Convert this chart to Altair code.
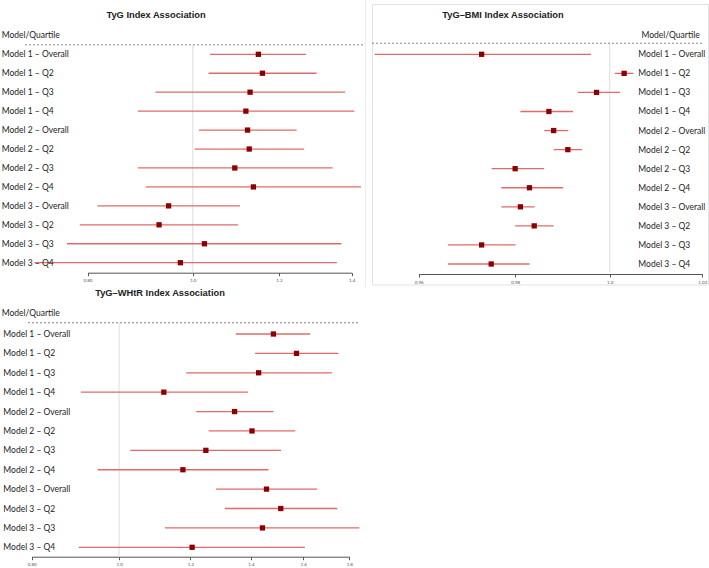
import json
import altair as alt
import pandas as pd

rows = ["Model 1 – Overall", "Model 1 – Q2", "Model 1 – Q3", "Model 1 – Q4",
        "Model 2 – Overall", "Model 2 – Q2", "Model 2 – Q3", "Model 2 – Q4",
        "Model 3 – Overall", "Model 3 – Q2", "Model 3 – Q3", "Model 3 – Q4"]

tyg_est = [1.149, 1.159, 1.129, 1.119, 1.123, 1.127, 1.093, 1.137, 0.950, 0.931, 1.025, 0.974]
tyg_lo = [1.037, 1.034, 0.924, 0.890, 1.013, 1.004, 0.890, 0.905, 0.817, 0.787, 0.766, 0.715]
tyg_hi = [1.271, 1.300, 1.381, 1.408, 1.246, 1.266, 1.345, 1.428, 1.105, 1.101, 1.370, 1.357]

bmi_est = [0.9730, 1.0031, 0.9972, 0.9871, 0.9881, 0.9911, 0.9800, 0.9830, 0.9811, 0.9840, 0.9730, 0.9750]
bmi_lo = [0.9510, 1.0011, 0.9932, 0.9811, 0.9861, 0.9881, 0.9751, 0.9771, 0.9771, 0.9800, 0.9660, 0.9660]
bmi_hi = [0.9960, 1.0051, 1.0022, 0.9922, 0.9912, 0.9941, 0.9861, 0.9901, 0.9841, 0.9881, 0.9801, 0.9830]

whtr_est = [1.483, 1.573, 1.428, 1.121, 1.343, 1.404, 1.248, 1.177, 1.457, 1.511, 1.442, 1.205]
whtr_lo = [1.347, 1.415, 1.187, 0.907, 1.218, 1.257, 1.029, 0.947, 1.281, 1.310, 1.124, 0.902]
whtr_hi = [1.629, 1.750, 1.722, 1.390, 1.483, 1.568, 1.512, 1.464, 1.658, 1.746, 1.847, 1.607]

tyg_ticks = [0.8, 1.0, 1.2, 1.4]
tyg_tick_labels = ["0.80", "1.0", "1.2", "1.4"]
bmi_ticks = [0.96, 0.98, 1.0, 1.02]
bmi_tick_labels = ["0.96", "0.98", "1.0", "1.02"]
whtr_ticks = [0.8, 1.0, 1.2, 1.4, 1.6, 1.8]
whtr_tick_labels = ["0.80", "1.0", "1.2", "1.4", "1.6", "1.8"]

titles = ["TyG Index Association", "TyG–BMI Index Association", "TyG–WHtR Index Association"]
header = "Model/Quartile"

FONT = "Lato"
TITLE_FONT = "Liberation Sans"
CI_COLOR = "#e06a6a"
PT_COLOR = "#8b0000"
one = pd.DataFrame({"k": [0]})


def make_panel(est, lo, hi, title, ticks, tick_labels, x_range, y_range,
               axis_offset, label_x, header_x, dash_x, title_x, pos):
    df = pd.DataFrame({"row": list(range(len(rows))), "label": rows,
                       "est": est, "lo": lo, "hi": hi})
    xs = alt.Scale(type="log", domain=[ticks[0], ticks[-1]], range=x_range, nice=False)
    ys = alt.Scale(domain=[0, len(rows) - 1], range=y_range, nice=False, zero=False)
    label_expr = f"{json.dumps(tick_labels)}[indexof({json.dumps(ticks)}, datum.value)]"
    axis = alt.Axis(values=ticks, labelExpr=label_expr, title=None, grid=False,
                    offset=axis_offset, orient="bottom", domainColor="#555",
                    tickColor="#555", tickSize=3, labelFontSize=4.5,
                    labelColor="#555", labelPadding=2, domainWidth=1,
                    labelFont=FONT, labelFlush=False)
    guide = pd.DataFrame({"ref": [1.0], "dash": [pos["dash"]], "axis": [pos["axis"]],
                          "header": [pos["header"]], "title": [pos["title"]]})
    base = alt.Chart(df)
    g = alt.Chart(guide)
    ci = base.mark_rule(color=CI_COLOR, strokeWidth=1.3).encode(
        x=alt.X("lo:Q", scale=xs, axis=axis), x2="hi:Q",
        y=alt.Y("row:Q", scale=ys, axis=None))
    pts = base.mark_square(color=PT_COLOR, size=28, opacity=1).encode(
        x=alt.X("est:Q", scale=xs, axis=axis), y=alt.Y("row:Q", scale=ys, axis=None))
    lbl = base.mark_text(align="left", baseline="middle", font=FONT,
                         fontSize=8.5, color="#222").encode(
        x=alt.value(label_x), y=alt.Y("row:Q", scale=ys, axis=None), text="label:N")
    ref = g.mark_rule(color="#dddddd", strokeWidth=1).encode(
        x=alt.X("ref:Q", scale=xs, axis=axis), y=alt.Y("dash:Q", scale=ys, axis=None), y2="axis:Q")
    dash = g.mark_rule(color="#666", strokeWidth=0.8, strokeDash=[2, 2]).encode(
        x=alt.value(dash_x[0]), x2=alt.value(dash_x[1]), y=alt.Y("dash:Q", scale=ys, axis=None))
    head = g.mark_text(align="left", baseline="middle", font=FONT,
                       fontSize=8.5, color="#222", text=header).encode(
        x=alt.value(header_x), y=alt.Y("header:Q", scale=ys, axis=None))
    ttl = g.mark_text(align="center", baseline="middle", font=TITLE_FONT,
                      fontSize=9.3, fontWeight="bold", color="#222", text=title).encode(
        x=alt.value(title_x), y=alt.Y("title:Q", scale=ys, axis=None))
    return alt.layer(ref, dash, ci, pts, lbl, head, ttl)


p_tyg = make_panel(tyg_est, tyg_lo, tyg_hi, titles[0], tyg_ticks, tyg_tick_labels,
                   [87.5, 351.6], [54.3, 262.7], -295.3, 1.7, 1.7, (25, 365), 156,
                   {"dash": -0.5, "axis": 11.47, "header": -1.02, "title": -2.07})
p_bmi = make_panel(bmi_est, bmi_lo, bmi_hi, titles[1], bmi_ticks, bmi_tick_labels,
                   [418.7, 702.3], [54.3, 264.0], -294.0, 638.3, 641.5, (372, 702), 503,
                   {"dash": -0.58, "axis": 11.4, "header": -1.02, "title": -2.05})
p_whtr = make_panel(whtr_est, whtr_lo, whtr_hi, titles[2], whtr_ticks, whtr_tick_labels,
                    [31.7, 349.3], [334.0, 547.3], -11.3, 3.3, 1.7, (28, 358), 160,
                    {"dash": -0.58, "axis": 11.48, "header": -1.07, "title": -2.1})

frame = alt.Chart(one).mark_rect(fillOpacity=0, stroke="#e2e2e2", strokeWidth=1).encode(
    x=alt.value(372.5), x2=alt.value(708.5), y=alt.value(4.5), y2=alt.value(285))
sep = alt.Chart(one).mark_rule(color="#ececec", strokeWidth=1).encode(
    x=alt.value(365.5), y=alt.value(0), y2=alt.value(287))

chart = alt.layer(frame, sep, p_tyg, p_bmi, p_whtr).resolve_scale(
    x="independent", y="independent"
).properties(
    width=709, height=568, padding=0, autosize=alt.AutoSizeParams(type="none"),
    background="white"
).configure_view(stroke=None)

chart.save("out.html", embed_options={"renderer": "svg", "actions": False})
